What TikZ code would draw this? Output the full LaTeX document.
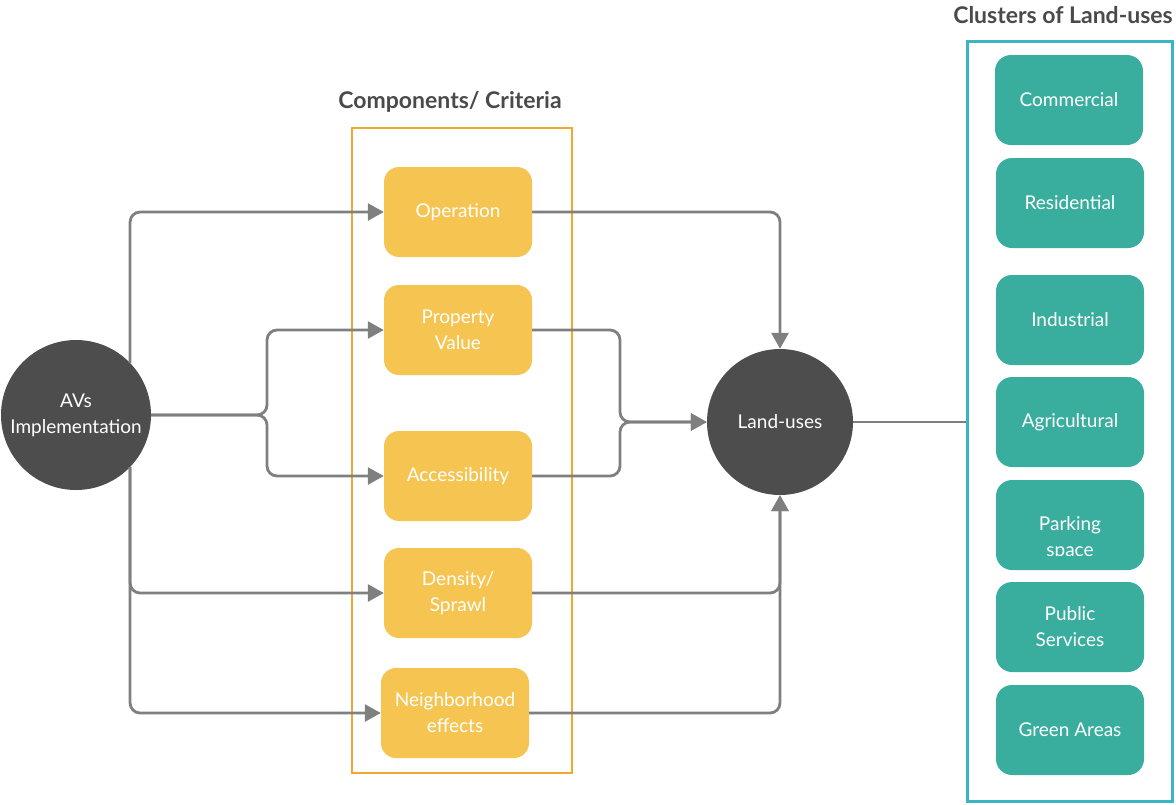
\documentclass[tikz,border=0pt]{standalone}
\usepackage{fontspec}
\setmainfont{Lato}
\usetikzlibrary{arrows.meta}
\definecolor{darkc}{HTML}{4D4D4D}
\definecolor{yfill}{HTML}{F5C451}
\definecolor{yframe}{HTML}{F0A92E}
\definecolor{tfill}{HTML}{3AAE9E}
\definecolor{tframe}{HTML}{3BB5C4}
\definecolor{lgray}{HTML}{7F7F7F}
\definecolor{ttext}{HTML}{4A4A4A}
\tikzset{
  txt/.style={font=\fontsize{19}{26}\selectfont, text=white, align=center},
  circ/.style={circle, fill=darkc, minimum size=150pt, inner sep=0pt, txt},
  ybox/.style={rounded corners=15pt, fill=yfill, minimum width=148pt, minimum height=90pt, inner sep=0pt, txt},
  tbox/.style={rounded corners=16pt, fill=tfill, minimum width=148pt, minimum height=90pt, inner sep=0pt, txt},
  conn/.style={draw=lgray, line width=2.8pt, rounded corners=10pt},
  arr/.style={conn, -{Triangle[length=16pt,width=17pt]}},
  ttl/.style={font=\fontsize{23}{27}\selectfont\bfseries, text=ttext}
}
\begin{document}
\begin{tikzpicture}[x=1pt,y=-1pt]
\useasboundingbox (0,0) rectangle (1176,804);
% frames
\node (yfr) [draw=yframe, line width=2pt, minimum width=220pt, minimum height=645pt, inner sep=0pt] at (462,450.5) {};
\node (tfr) [draw=tframe, line width=3pt, minimum width=205pt, minimum height=760pt, inner sep=0pt] at (1069.5,421) {};
% titles
\node (t1) [ttl] at (450,102) {Components/ Criteria};
\node (t2) [ttl] at (1063,15) {Clusters of Land-uses};
% circles
\node (avs) [circ] at (76,415) {AVs\\Implementation};
\node (lu) [circ, minimum size=146pt] at (780,422) {Land-uses};
% yellow boxes
\node (op) [ybox] at (458,212) {Operation};
\node (pv) [ybox] at (458,330) {Property\\Value};
\node (ac) [ybox] at (458,476) {Accessibility};
\node (ds) [ybox] at (458,593) {Density/\\Sprawl};
\node (nb) [ybox] at (455,713) {Neighborhood\\effects};
% teal boxes
\node (cm) [tbox] at (1069,100) {Commercial};
\node (rs) [tbox] at (1070,203) {Residential};
\node (in) [tbox] at (1070,320) {Industrial};
\node (ag) [tbox] at (1070,422) {Agricultural};
\node (pk) [tbox] at (1070,525) {};
\begin{scope}
\clip (996,480) rectangle (1144,555);
\node (pkt) [txt] at (1070,538) {Parking\\space};
\end{scope}
\node (ps) [tbox] at (1070,627) {Public\\Services};
\node (ga) [tbox] at (1070,730) {Green Areas};
% connectors from AVs
\coordinate (b1) at (267,415);
\draw[arr] (avs.44) |- (op.west);
\draw[arr] (avs.-44) |- (ds.west);
\draw[arr] (avs.-44) |- (nb.west);
\draw[arr] (avs.east) -- (b1) |- (pv.west);
\draw[arr] (avs.east) -- (b1) |- (ac.west);
% connectors to Land-uses
\coordinate (b2) at (620,422);
\draw[arr] (pv.east) -| (b2) -- (lu.west);
\draw[arr] (ac.east) -| (b2) -- (lu.west);
\draw[arr] (op.east) -| (lu.north);
\draw[arr] (ds.east) -| (lu.south);
\draw[arr] (nb.east) -| (lu.south);
% Land-uses to clusters
\draw[conn] (lu.east) -- (lu.east -| tfr.west);
\end{tikzpicture}
\end{document}
